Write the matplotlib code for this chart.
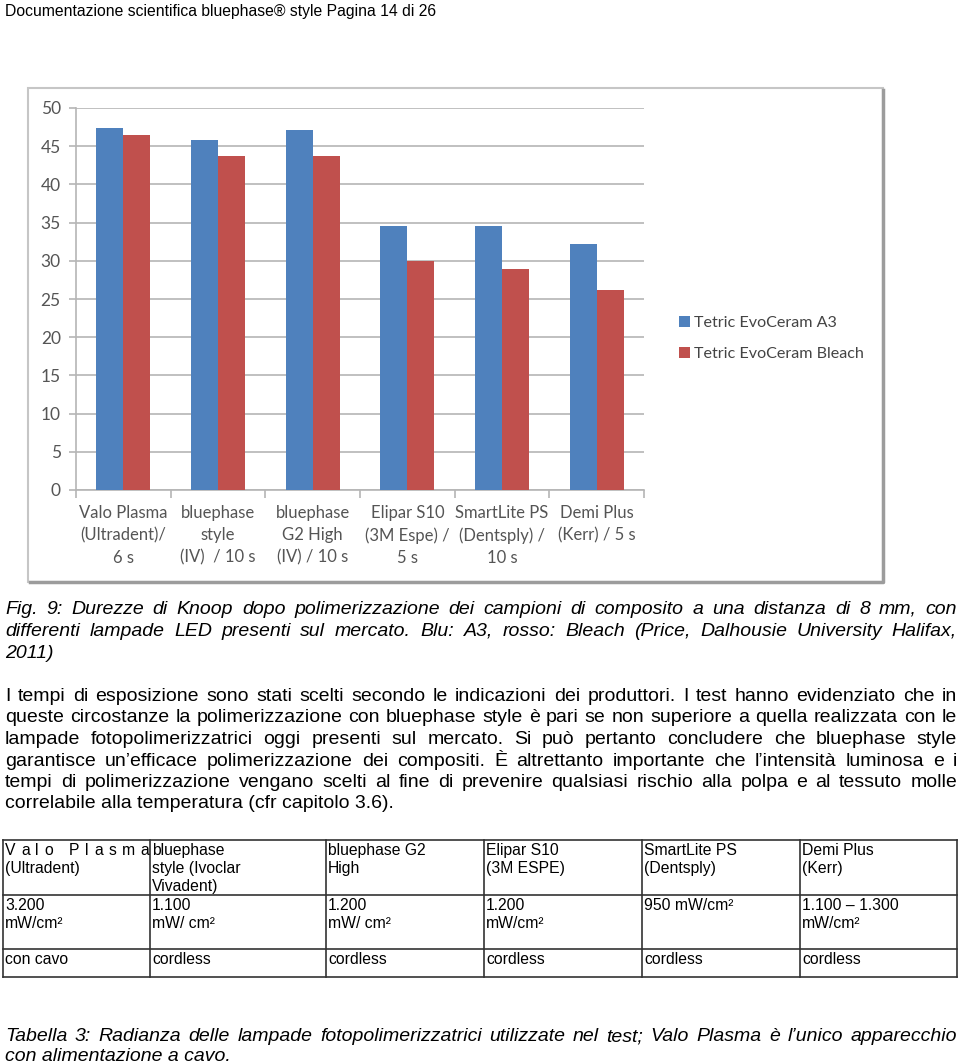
import matplotlib
matplotlib.use('Agg')
import matplotlib.pyplot as plt
import numpy as np
from matplotlib.transforms import Affine2D
from matplotlib.patches import Rectangle
from matplotlib.lines import Line2D

W, H = 960, 1063

# chart data
lamps = ['Valo Plasma\n(Ultradent)/\n6 s', 'bluephase\nstyle\n(IV)  / 10 s', 'bluephase\nG2 High\n(IV) / 10 s',
         'Elipar S10\n(3M Espe) /\n5 s', 'SmartLite PS\n(Dentsply) /\n10 s', 'Demi Plus\n(Kerr) / 5 s']
a3 = [47.4, 45.8, 47.1, 34.6, 34.5, 32.2]
bleach = [46.5, 43.7, 43.7, 30.0, 28.9, 26.2]
series = ['Tetric EvoCeram A3', 'Tetric EvoCeram Bleach']
yticks = list(range(0, 55, 5))

# page text
header = 'Documentazione scientifica bluephase® style Pagina 14 di 26'
caption = ['Fig. 9: Durezze di Knoop dopo polimerizzazione dei campioni di composito a una distanza di 8 mm, con',
           'differenti lampade LED presenti sul mercato. Blu: A3, rosso: Bleach (Price, Dalhousie University Halifax,',
           '2011)']
body = ['I tempi di esposizione sono stati scelti secondo le indicazioni dei produttori. I test hanno evidenziato che in',
        'queste circostanze la polimerizzazione con bluephase style è pari se non superiore a quella realizzata con le',
        'lampade fotopolimerizzatrici oggi presenti sul mercato. Si può pertanto concludere che bluephase style',
        'garantisce un’efficace polimerizzazione dei compositi. È altrettanto importante che l’intensità luminosa e i',
        'tempi di polimerizzazione vengano scelti al fine di prevenire qualsiasi rischio alla polpa e al tessuto molle',
        'correlabile alla temperatura (cfr capitolo 3.6).']
table_rows = [
    [['V a l o  P l a s m a', '(Ultradent)'], ['bluephase', 'style (Ivoclar', 'Vivadent)'], ['bluephase G2', 'High'],
     ['Elipar S10', '(3M ESPE)'], ['SmartLite PS', '(Dentsply)'], ['Demi Plus', '(Kerr)']],
    [['3.200', 'mW/cm²'], ['1.100', 'mW/ cm²'], ['1.200', 'mW/ cm²'], ['1.200', 'mW/cm²'], ['950 mW/cm²'],
     ['1.100 – 1.300', 'mW/cm²']],
    [['con cavo'], ['cordless'], ['cordless'], ['cordless'], ['cordless'], ['cordless']],
]
table_caption = ['Tabella 3: Radianza delle lampade fotopolimerizzatrici utilizzate nel test; Valo Plasma è l’unico apparecchio',
                 'con alimentazione a cavo.']

fig = plt.figure(figsize=(W/100, H/100), dpi=100)
px = Affine2D().scale(1/W, -1/H).translate(0, 1) + fig.transFigure
rend = fig.canvas.get_renderer()
TXT = 'Liberation Sans'


def line_text(words, x0, y, x1=None, **kw):
    # place words one by one so that the line fills x0..x1 (justified)
    if x1 is None:
        fig.text(x0, y, ' '.join(words), transform=px, va='baseline', **kw)
        return
    ts = [fig.text(0, y, w, transform=px, va='baseline', **kw) for w in words]
    ws = [t.get_window_extent(rend).width if w else 0 for t, w in zip(ts, words)]
    gap = (x1 - x0 - sum(ws)) / (len(words) - 1)
    x = x0
    for t, w in zip(ts, ws):
        t.set_x(x)
        x += w + gap


# header
fig.text(5, 16, header, transform=px, va='baseline', family=TXT, size=11.3)

# chart frame
fig.add_artist(Rectangle((28, 88), 855, 494, transform=px, fill=False, ec='#c6c6c6', lw=1.5))
fig.add_artist(Line2D([30, 883, 883], [582, 582, 90], transform=px, color='#9c9c9c', lw=2.5))

ax = fig.add_axes([76/W, 1 - 490/H, (644-76)/W, (490-108)/H])
x = np.arange(len(lamps))
w = 0.285
ax.bar(x - w/2, a3, w, color='#4F81BD', label=series[0], zorder=3)
ax.bar(x + w/2, bleach, w, color='#C0504D', label=series[1], zorder=3)
ax.set_xlim(-0.5, 5.5)
ax.set_ylim(0, 50)
ax.set_yticks(yticks)
ax.yaxis.grid(True, color='#b5b5b5', lw=1.2)
ax.set_axisbelow(True)
for s in ['top', 'right']:
    ax.spines[s].set_visible(False)
for s in ['left', 'bottom']:
    ax.spines[s].set_color('#b5b5b5')
    ax.spines[s].set_linewidth(1.2)
ax.tick_params(axis='y', length=5, color='#b5b5b5', width=1.2, labelcolor='#555555', labelsize=12.5, pad=6)
ax.set_xticks(np.arange(-0.5, 6, 1))
ax.set_xticklabels([])
ax.tick_params(axis='x', which='major', length=6, color='#b5b5b5', width=1.2)
ax.set_xticks(x, minor=True)
ax.set_xticklabels(lamps, minor=True, linespacing=1.47)
ax.tick_params(axis='x', which='minor', length=0, labelcolor='#555555', labelsize=12, pad=11)
for lab in ax.get_xticklabels(minor=True) + ax.get_yticklabels():
    lab.set_family('Lato')

leg = ax.legend(loc='upper left', bbox_to_anchor=(671, 308), bbox_transform=px, frameon=False,
                handlelength=0.65, handleheight=0.65, handletextpad=0.25, labelspacing=1.05, borderpad=0,
                prop={'family': 'Lato', 'size': 11.6})
for t in leg.get_texts():
    t.set_color('#444444')

# caption under the chart
for i, ln in enumerate(caption):
    line_text(ln.split(), 5, 614 + 22*i, 957 if i < 2 else None, family=TXT, size=14, style='italic')

# paragraph
for i, ln in enumerate(body):
    line_text(ln.split(), 5, 701 + 21.5*i, 957 if i < len(body)-1 else None, family=TXT, size=14)

# table
cols = [3, 150, 326, 484, 642, 800, 957]
rows = [840, 895, 949, 977]
for c in cols:
    fig.add_artist(Line2D([c, c], [rows[0], rows[-1]], transform=px, color='#333333', lw=1.2))
for r in rows:
    fig.add_artist(Line2D([cols[0], cols[-1]], [r, r], transform=px, color='#333333', lw=1.2))
for ri, row in enumerate(table_rows):
    for ci, cell in enumerate(row):
        for li, txt in enumerate(cell):
            y = rows[ri] + 15 + 18*li
            if ri == 0 and ci == 0 and li == 0:
                toks = list('Valo') + ['', ''] + list('Plasma')
                line_text(toks, cols[0] + 2, y, cols[1] - 1, family=TXT, size=11.3)
            else:
                line_text([txt], cols[ci] + 2, y, family=TXT, size=11.3)

# table caption
for i, ln in enumerate(table_caption):
    line_text(ln.split(), 5, 1041 + 20*i, 957 if i == 0 else None, family=TXT, size=14, style='italic')

fig.savefig('out.png', dpi=100)
